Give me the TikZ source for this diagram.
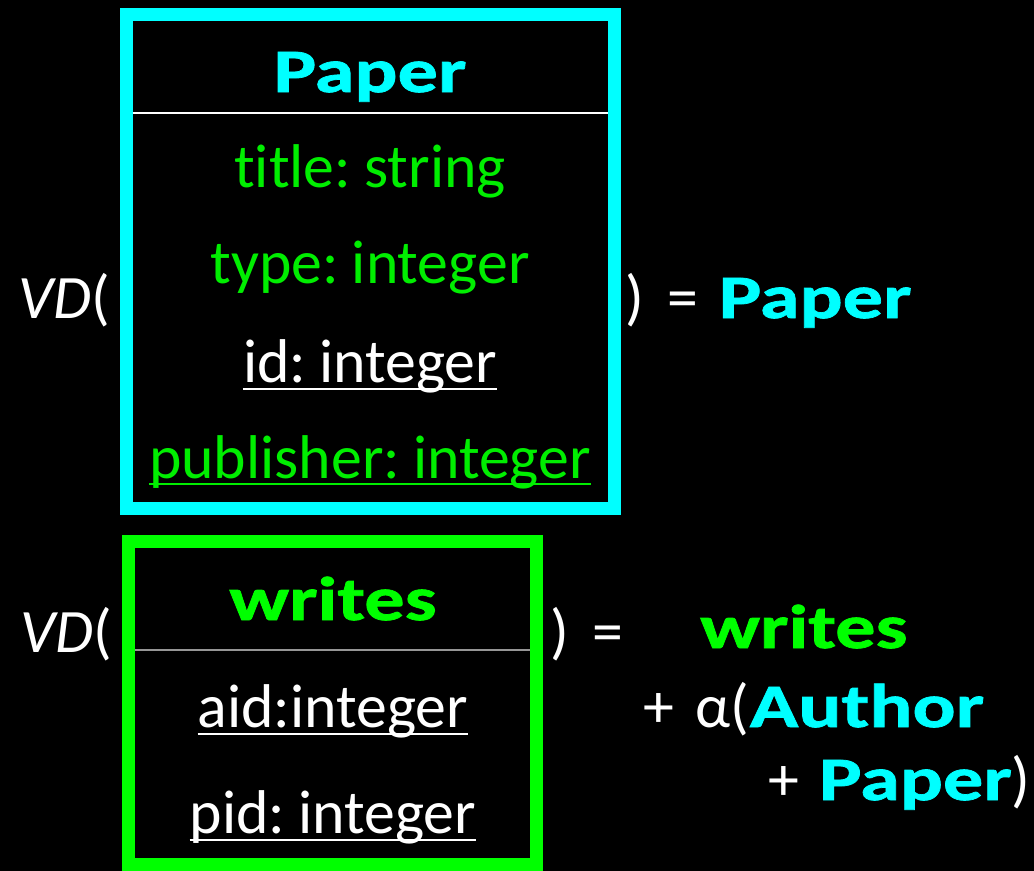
\documentclass[tikz,border=0pt]{standalone}
\usepackage{fontspec}
\setmainfont{Carlito}[Ligatures=NoCommon, WordSpace=0.6]
\newfontfamily\headfont{Carlito}[Ligatures=NoCommon, FakeStretch=1.3, FakeBold=1.2]
\definecolor{aqua}{RGB}{0, 255, 255}
\definecolor{lime}{RGB}{0, 255, 0}
\definecolor{leaf}{RGB}{0, 238, 0}
\definecolor{slate}{RGB}{150, 150, 150}
\tikzset{
  txt/.style  = {anchor=base, inner sep=0pt, font=\fontsize{62}{70}\selectfont},
  head/.style = {txt, font=\fontsize{62}{70}\selectfont\headfont\bfseries},
  uline/.style = {line width=2.8bp},
}

\begin{document}
\begin{tikzpicture}[x=1bp, y=-1bp]
            \fill[black]                        (   0,   0) rectangle (1034, 871);
            \useasboundingbox                   (   0,   0) rectangle (1034, 871);
            % Paper table
            \draw[aqua,  line width=13bp]       (126.5, 14.5) rectangle (614.5, 508.5);
            \draw[white, line width=1.2bp]      ( 133, 113) -- ( 608, 113);
            \node[head, aqua]  (ptitle) at ( 370,  92) {Paper};
            \node[txt,  leaf]  (ptit)   at ( 370, 187) {title: string};
            \node[txt,  leaf]  (ptype)  at ( 370, 283) {type: integer};
            \node[txt,  white] (pid)    at ( 370, 382) {id: integer};
            \node[txt,  leaf]  (ppub)   at ( 370, 478) {publisher: integer};
            \draw[white, uline] ([yshift=-7bp]pid.base west)  -- ([yshift=-7bp]pid.base east);
            \draw[leaf,  uline] ([yshift=-6bp]ppub.base west) -- ([yshift=-6bp]ppub.base east);
            \node[txt, white, anchor=base west] (vdp)  at (  18, 318) {\textit{VD}(};
            \node[txt, white, anchor=base west] (eqp)  at ( 625, 318) {)\hspace{24bp}=\hspace{20bp}\textcolor{aqua}{\headfont\bfseries Paper}};
            % writes table
            \draw[lime,  line width=13bp]       (128.5,541.5) rectangle (536.5, 864.5);
            \draw[slate, line width=1.2bp]      ( 135, 650) -- ( 530, 650);
            \node[head, lime]  (wtitle) at ( 333, 620) {writes};
            \node[txt,  white] (waid)   at ( 333, 727) {aid:integer};
            \node[txt,  white] (wpid)   at ( 333, 833) {pid: integer};
            \draw[white, uline] ([yshift=-7bp]waid.base west) -- ([yshift=-7bp]waid.base east);
            \draw[white, uline] ([yshift=-7bp]wpid.base west) -- ([yshift=-7bp]wpid.base east);
            \node[txt, white, anchor=base west] (vdw)  at (  20, 652) {\textit{VD}(};
            \node[txt, white, anchor=base west] (eqw)  at ( 550, 652) {)\hspace{24bp}=};
            \node[head, lime,  anchor=base west] (wres) at ( 700, 648) {writes};
            \node[txt, white, anchor=base west] (wa)   at ( 643, 727) {+\hspace{22bp}α(\textcolor{aqua}{\headfont\bfseries Author}};
            \node[txt, white, anchor=base west] (wp)   at ( 768, 800) {+\hspace{20bp}\textcolor{aqua}{\headfont\bfseries Paper})};
        \end{tikzpicture}
\end{document}
